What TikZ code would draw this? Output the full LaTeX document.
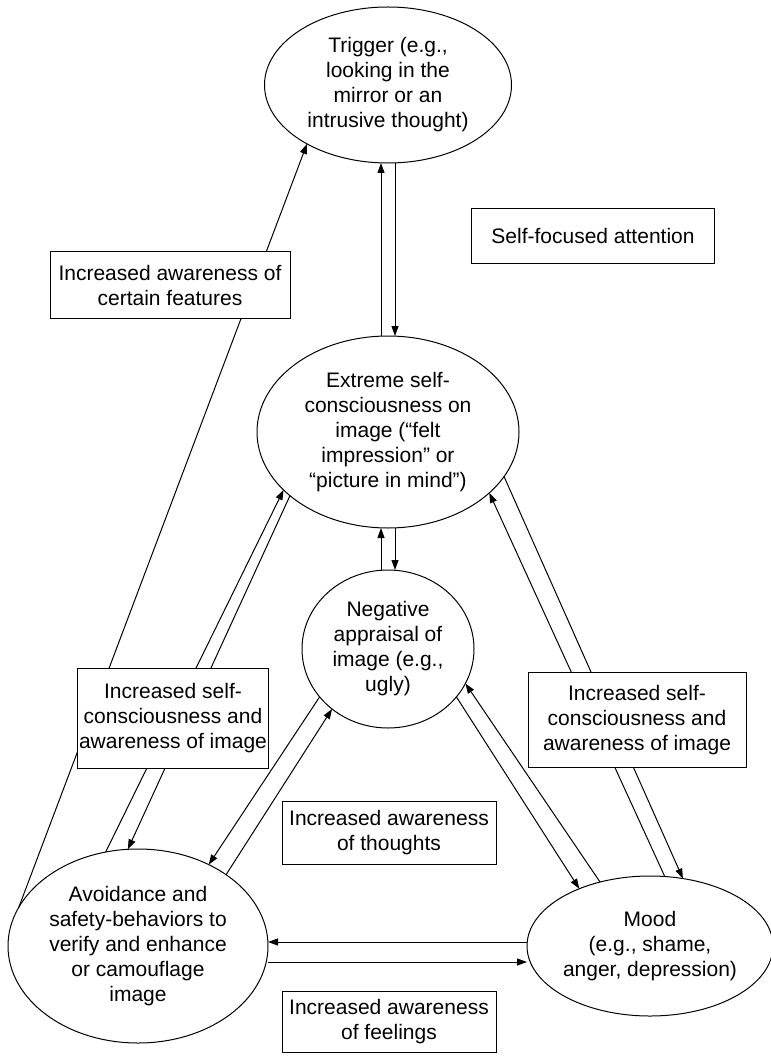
\documentclass[tikz,border=0pt]{standalone}
\usepackage{fontspec}
\setmainfont{Liberation Sans}
\usepackage{tikz}
\usetikzlibrary{arrows.meta,shapes.geometric}

\begin{document}
\begin{tikzpicture}[
  x=1pt, y=-1pt,
  every node/.style={font=\fontsize{21}{25}\selectfont},
  ovalnode/.style={ellipse, draw, line width=1pt, align=center, inner sep=0pt, outer sep=0pt},
  labelbox/.style={rectangle, draw, line width=1pt, fill=white, align=center, inner sep=0pt},
  arrow/.style={-{Triangle[length=10pt,width=7pt]}, line width=1pt}
]
\useasboundingbox (0,0) rectangle (770,1056);

\node[ovalnode, minimum width=247pt, minimum height=156pt] (trigger) at (388,85) {Trigger (e.g.,\\looking in the\\mirror or an\\intrusive thought)};
\node[ovalnode, minimum width=262pt, minimum height=192pt] (extreme) at (388,432) {Extreme self-\\consciousness on\\image (“felt\\impression” or\\“picture in mind”)};
\node[ovalnode, minimum width=172pt, minimum height=158pt] (negative) at (388,649) {Negative\\appraisal of\\image (e.g.,\\ugly)};
\node[ovalnode, minimum width=260pt, minimum height=194pt] (avoid) at (138,946) {Avoidance and\\safety-behaviors to\\verify and enhance\\or camouflage\\image};
\node[ovalnode, minimum width=244pt, minimum height=140pt] (mood) at (650,946) {Mood\\(e.g., shame,\\anger, depression)};

\draw[arrow] (avoid.162) -- (trigger.216);
\draw[arrow] ([xshift=-7pt]extreme.north) -- ([xshift=-7pt]trigger.south);
\draw[arrow] ([xshift=7pt]trigger.south) -- ([xshift=7pt]extreme.north);
\draw[arrow] ([xshift=-7pt]negative.north) -- ([xshift=-7pt]extreme.south);
\draw[arrow] ([xshift=7pt]extreme.south) -- ([xshift=7pt]negative.north);

\draw[arrow] (avoid.109) -- (extreme.209);
\draw[arrow] (extreme.213) -- (avoid.96);
\draw[arrow] (mood.78) -- (extreme.329);
\draw[arrow] (extreme.339) -- (mood.64);

\draw[arrow] (negative.215) -- (avoid.49);
\draw[arrow] (avoid.39) -- (negative.227);
\draw[arrow] (mood.128) -- (negative.336);
\draw[arrow] (negative.325) -- (mood.141);

\draw[arrow] ([yshift=4pt]mood.west) -- ([yshift=4pt]mood.west -| avoid.east);
\draw[arrow] ([yshift=-16pt]avoid.east) -- ([yshift=-16pt]avoid.east -| mood.west);

\node[labelbox, minimum width=243pt, minimum height=55pt] (focus) at (593,236) {Self-focused attention};
\node[labelbox, minimum width=240pt, minimum height=66pt] (features) at (170,285) {Increased awareness of\\certain features};
\node[labelbox, minimum width=191pt, minimum height=100pt] (leftaware) at (173,718) {Increased self-\\consciousness and\\awareness of image};
\node[labelbox, minimum width=218pt, minimum height=95pt] (rightaware) at (637,720) {Increased self-\\consciousness and\\awareness of image};
\node[labelbox, minimum width=214pt, minimum height=63pt] (thoughts) at (389,833) {Increased awareness\\of thoughts};
\node[labelbox, minimum width=214pt, minimum height=61pt] (feelings) at (389,1022) {Increased awareness\\of feelings};
\end{tikzpicture}
\end{document}
